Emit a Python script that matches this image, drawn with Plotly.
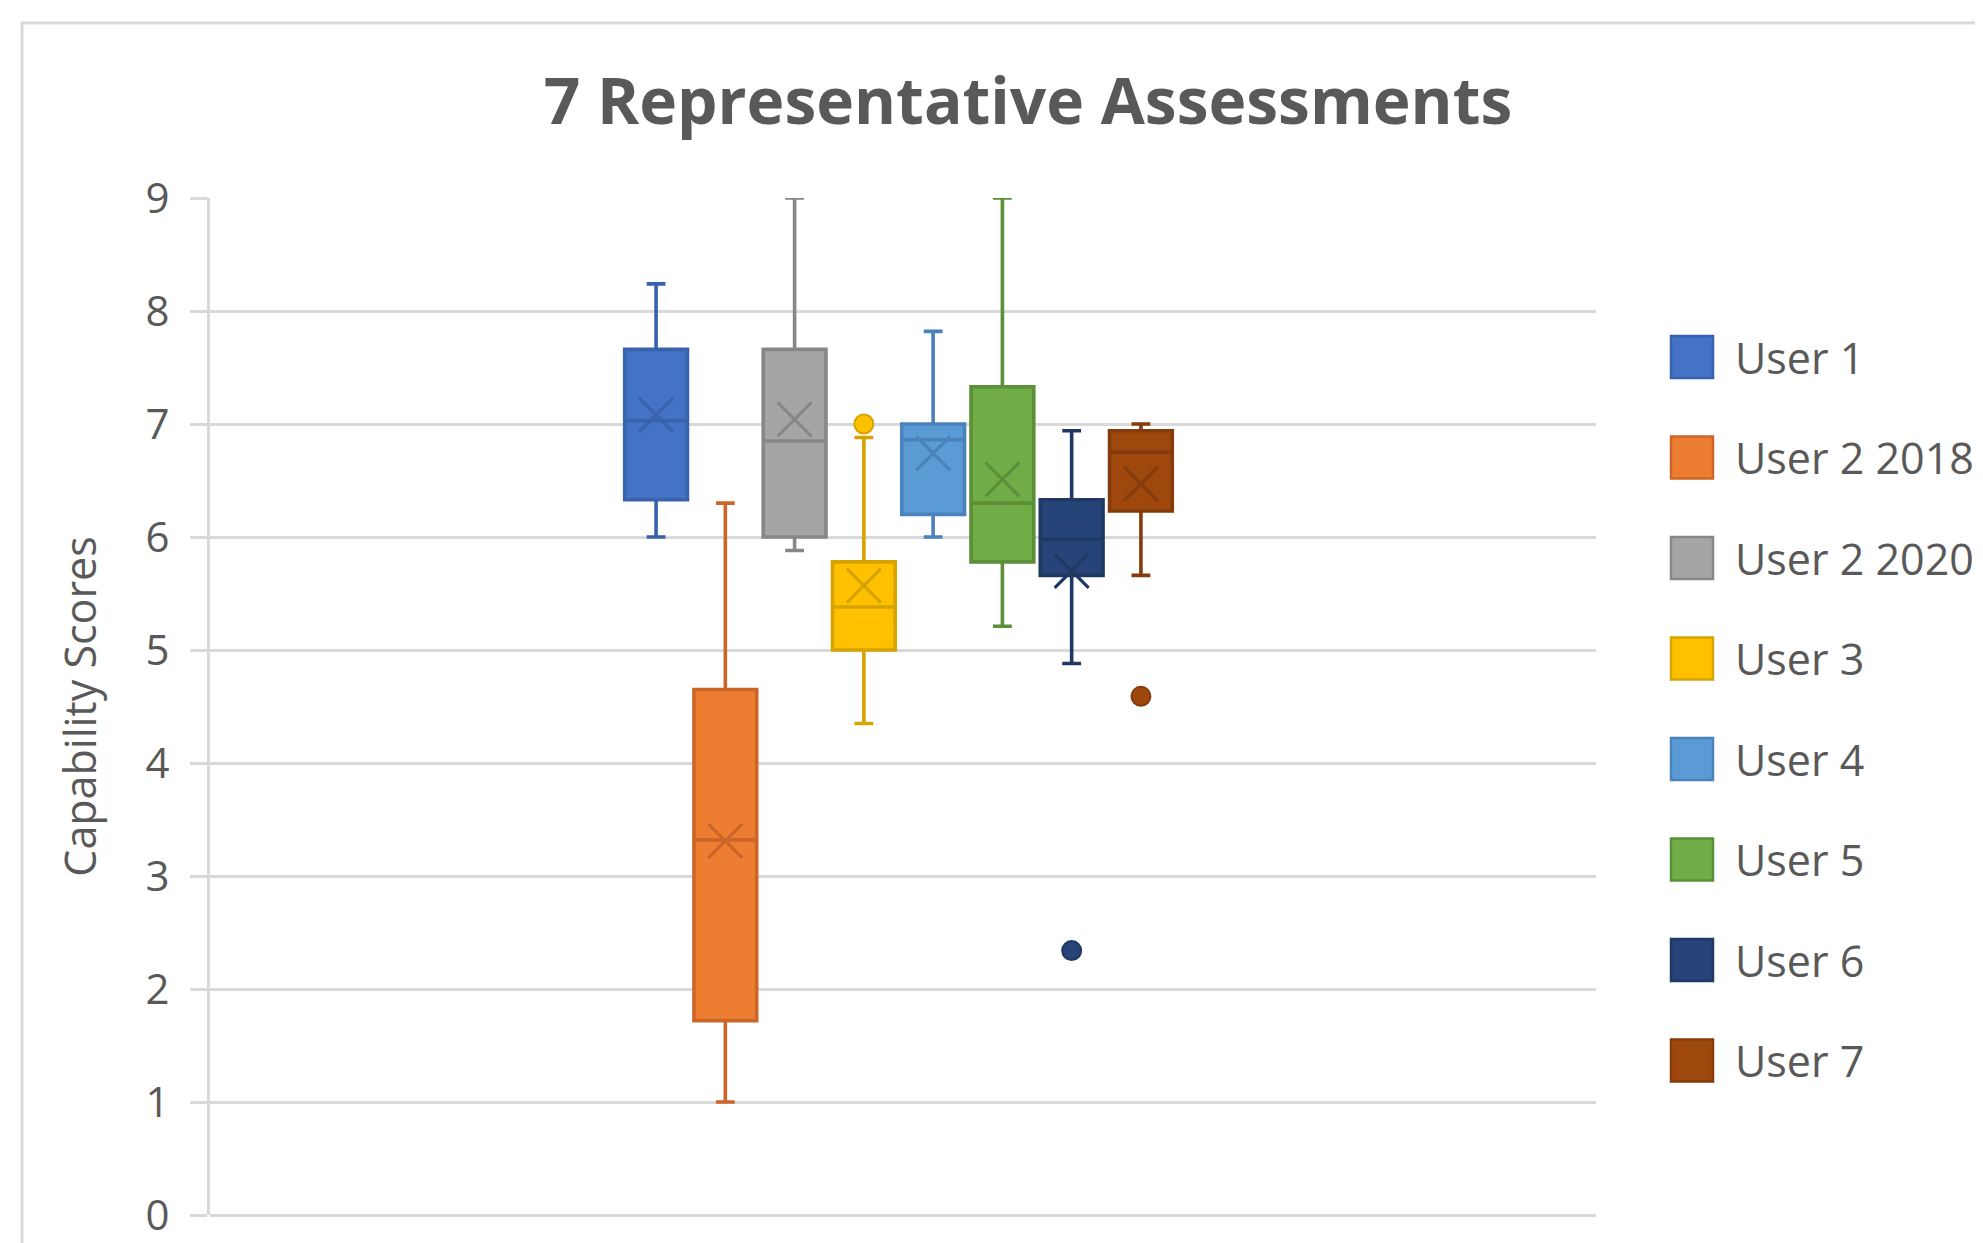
import plotly.graph_objects as go

# ---------------- data ----------------
names = ["User 1", "User 2 2018", "User 2 2020", "User 3", "User 4", "User 5", "User 6", "User 7"]
lower_whisker = [6.00, 1.00, 5.88, 4.35, 6.00, 5.21, 4.88, 5.66]
q1_values     = [6.33, 1.72, 6.00, 5.00, 6.20, 5.78, 5.66, 6.23]
median_values = [7.03, 3.32, 6.85, 5.38, 6.86, 6.30, 5.98, 6.75]
q3_values     = [7.66, 4.65, 7.66, 5.78, 7.00, 7.33, 6.33, 6.94]
upper_whisker = [8.24, 6.30, 9.00, 6.88, 7.82, 9.00, 6.94, 7.00]
mean_values   = [7.08, 3.31, 7.04, 5.57, 6.74, 6.51, 5.70, 6.47]
outlier_values = [[], [], [], [7.00], [], [], [2.34], [4.59]]

fill_colors = ["#4472C4", "#ED7D31", "#A5A5A5", "#FFC000", "#5B9BD5", "#70AD47", "#264478", "#9E480E"]
line_colors = ["#3862AE", "#CB6628", "#878787", "#D6A300", "#4A82BC", "#5B8F3A", "#1F3864", "#843C0C"]

tick_values = list(range(0, 10))

# ---------------- layout geometry ----------------
OFF = 8  # page body margin
W, H = 1983, 1243
L, T = 210 - OFF, 198 - OFF
R = W - (1596 - OFF)
B = H - (1215 - OFF)
PW, PH = W - L - R, H - T - B

def px_to_paper_x(px):  # px: screen pixel
    return (px - OFF - L) / PW

def px_to_paper_y(py):
    return (H - B - (py - OFF)) / PH

fig = go.Figure()

for i, name in enumerate(names):
    fig.add_trace(go.Box(
        x=[i], q1=[q1_values[i]], median=[median_values[i]], q3=[q3_values[i]],
        lowerfence=[lower_whisker[i]], upperfence=[upper_whisker[i]],
        name=name, width=0.906, whiskerwidth=0.3,
        fillcolor=fill_colors[i], line=dict(color=line_colors[i], width=3.6),
        boxpoints=False, showlegend=False, hoverinfo="skip",
    ))
    fig.add_trace(go.Scatter(
        x=[i], y=[mean_values[i]], mode="markers", showlegend=False, hoverinfo="skip",
        marker=dict(symbol="x-thin-open", size=34, color=line_colors[i],
                    line=dict(color=line_colors[i], width=3.2)),
    ))
    if outlier_values[i]:
        fig.add_trace(go.Scatter(
            x=[i] * len(outlier_values[i]), y=outlier_values[i], mode="markers",
            showlegend=False, hoverinfo="skip",
            marker=dict(symbol="circle", size=19, color=fill_colors[i],
                        line=dict(color=line_colors[i], width=2)),
        ))

shapes = [
    # chart border
    dict(type="rect", xref="paper", yref="paper",
         x0=px_to_paper_x(22), x1=px_to_paper_x(2100),
         y0=px_to_paper_y(1400), y1=px_to_paper_y(23),
         line=dict(color="#D9D9D9", width=3), fillcolor="rgba(0,0,0,0)", layer="below"),
]
annotations = []
for i, name in enumerate(names):
    cy = 357 + 100.5 * i
    shapes.append(dict(
        type="rect", xref="paper", yref="paper",
        x0=px_to_paper_x(1671), x1=px_to_paper_x(1713),
        y0=px_to_paper_y(cy + 21), y1=px_to_paper_y(cy - 21),
        fillcolor=fill_colors[i], line=dict(color=line_colors[i], width=2.5),
    ))
    annotations.append(dict(
        xref="paper", yref="paper", x=px_to_paper_x(1733), y=px_to_paper_y(cy),
        xanchor="left", yanchor="middle", text=name, showarrow=False,
        font=dict(family="Open Sans", size=43, color="#595959"),
    ))

fig.update_layout(
    width=W, height=H,
    margin=dict(l=L, r=R, t=T, b=B, autoexpand=False),
    paper_bgcolor="white", plot_bgcolor="white",
    title=dict(text="<b>7 Representative Assessments</b>", xref="container", x=(1028 - OFF) / W,
               xanchor="center", yref="container", y=1 - (102 - OFF) / H, yanchor="middle",
               font=dict(family="Open Sans", size=64, color="#595959")),
    xaxis=dict(range=[-6.44, 13.57], visible=False),
    yaxis=dict(range=[0, 9], tickvals=tick_values, ticktext=[str(v) for v in tick_values],
               showgrid=True, gridcolor="#D9D9D9", gridwidth=3.4,
               showline=True, linecolor="#D9D9D9", linewidth=3.4,
               zeroline=True, zerolinecolor="#D9D9D9", zerolinewidth=3.4,
               ticks="outside", ticklen=17, tickwidth=3.4, tickcolor="#D9D9D9",
               ticklabelstandoff=12,
               tickfont=dict(family="Open Sans", size=42, color="#595959"),
               title=dict(text="Capability Scores", standoff=36,
                          font=dict(family="Open Sans", size=43, color="#595959"))),
    shapes=shapes, annotations=annotations,
    showlegend=False,
)

fig.write_html("out.html")
